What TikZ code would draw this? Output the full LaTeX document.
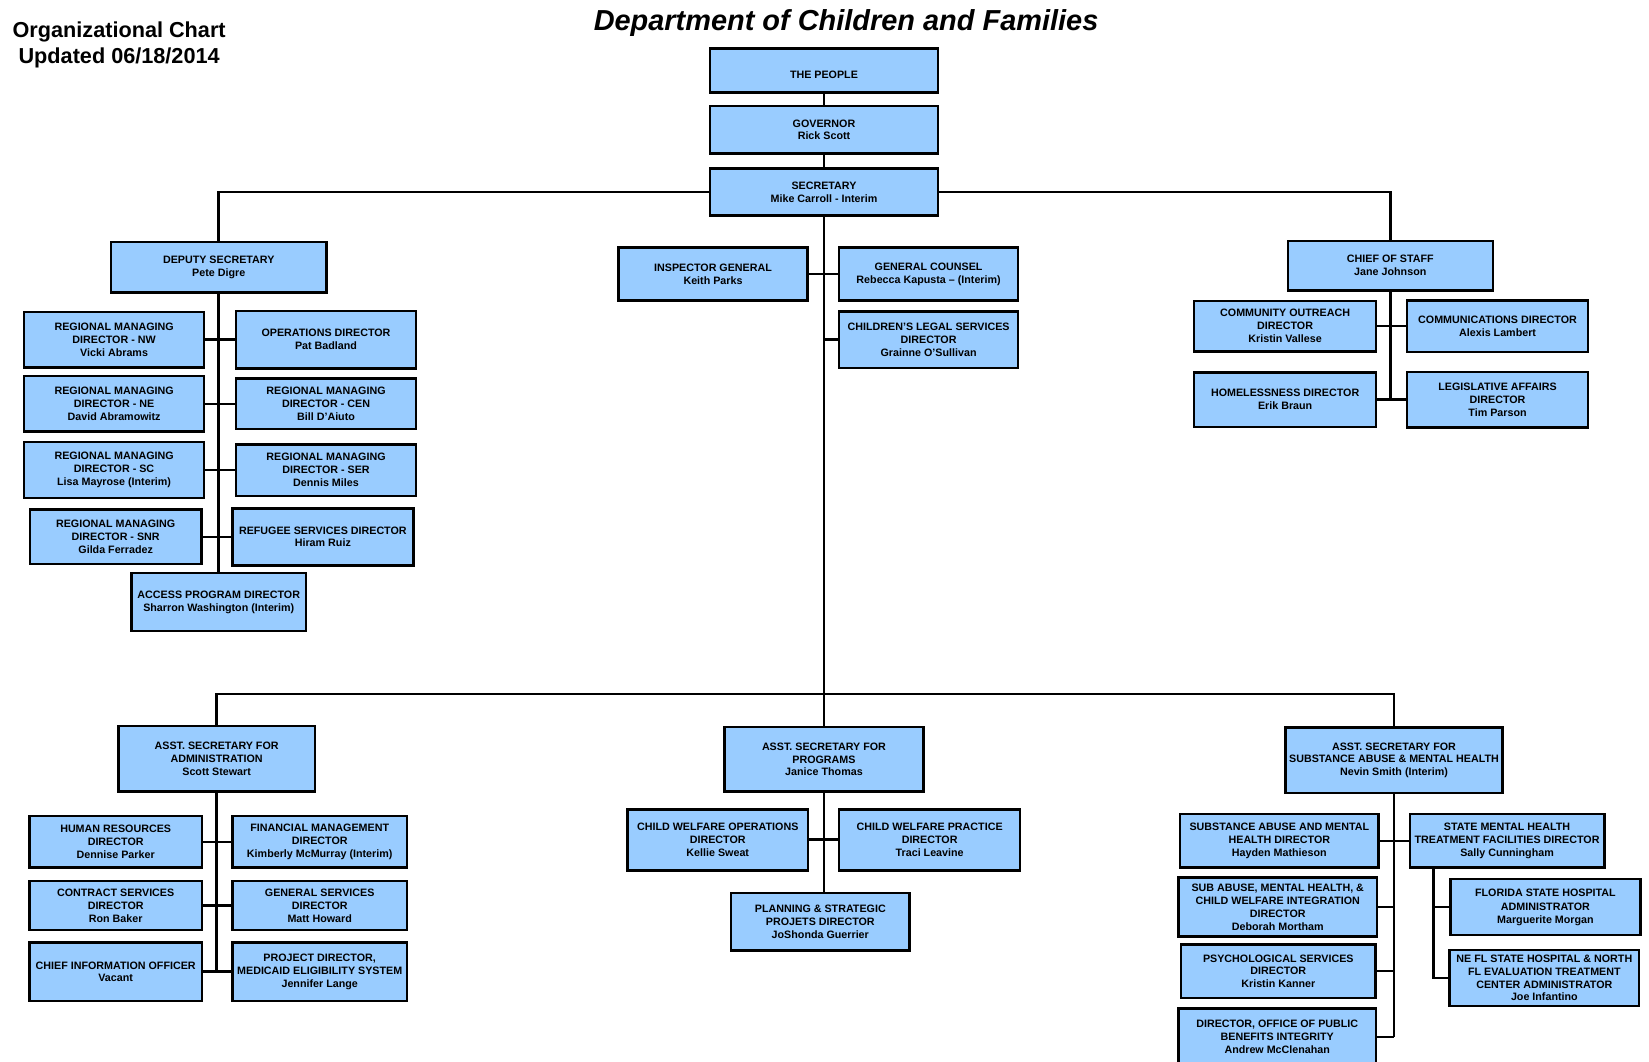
\documentclass[tikz,border=0pt]{standalone}
\usepackage{fontspec}
\setmainfont{Liberation Sans}
\definecolor{boxblue}{HTML}{99CCFF}

\begin{document}
\begin{tikzpicture}[x=1pt, y=-1pt, line width=2.4pt,
    orgbox/.style={rectangle, draw, fill=boxblue, align=center, inner sep=1pt,
      font=\bfseries\fontsize{10.2}{12.2}\selectfont},
    boxsize/.style 2 args={minimum width=#1pt, minimum height=#2pt},
    headline/.style={anchor=base, font=\bfseries\fontsize{20.6}{24.7}\selectfont}]
    \useasboundingbox (0,0) rectangle (1568,1009);

    \node (charttitle) [headline] at (113.3,35.5) {Organizational Chart};
    \node (chartdate) [headline] at (113.3,60.2) {Updated 06/18/2014};
    \node (depttitle) [anchor=base, font=\bfseries\itshape\fontsize{27.5}{33}\selectfont] at (804.5,29) {Department of Children and Families};

    \node (people) [orgbox, boxsize={217}{42}, text height=14.5pt] at (783.5,67) {THE PEOPLE};
    \node (governor) [orgbox, boxsize={217}{45}] at (783.5,123.5) {GOVERNOR\\Rick Scott};
    \node (secretary) [orgbox, boxsize={217}{45}] at (783.5,182.5) {SECRETARY\\Mike Carroll - Interim};

    \node (deputy) [orgbox, boxsize={205}{48}] at (208,254) {DEPUTY SECRETARY\\Pete Digre};
    \node (inspector) [orgbox, boxsize={180}{50}] at (678,260.5) {INSPECTOR GENERAL\\Keith Parks};
    \node (counsel) [orgbox, boxsize={170}{50}] at (883,260.5) {GENERAL COUNSEL\\Rebecca Kapusta -- (Interim)};
    \node (legal) [orgbox, boxsize={170}{54}] at (883,323) {CHILDREN'S LEGAL SERVICES\\DIRECTOR\\Grainne O'Sullivan};
    \node (chief) [orgbox, boxsize={195}{47}] at (1322,252.5) {CHIEF OF STAFF\\Jane Johnson};

    \node (rmdnw) [orgbox, boxsize={171}{53}] at (108.5,323) {REGIONAL MANAGING\\DIRECTOR - NW\\Vicki Abrams};
    \node (ops) [orgbox, boxsize={171}{55}] at (310,323) {OPERATIONS DIRECTOR\\Pat Badland};
    \node (rmdne) [orgbox, boxsize={171}{53}] at (108.5,384) {REGIONAL MANAGING\\DIRECTOR - NE\\David Abramowitz};
    \node (rmdcen) [orgbox, boxsize={171}{48}] at (310,384) {REGIONAL MANAGING\\DIRECTOR - CEN\\Bill D'Aiuto};
    \node (rmdsc) [orgbox, boxsize={171}{53}] at (108.5,447) {REGIONAL MANAGING\\DIRECTOR - SC\\Lisa Mayrose (Interim)};
    \node (rmdser) [orgbox, boxsize={171}{49}] at (310,447) {REGIONAL MANAGING\\DIRECTOR - SER\\Dennis Miles};
    \node (rmdsnr) [orgbox, boxsize={163}{52}] at (110,510.5) {REGIONAL MANAGING\\DIRECTOR - SNR\\Gilda Ferradez};
    \node (refugee) [orgbox, boxsize={172}{54}] at (307,510.5) {REFUGEE SERVICES DIRECTOR\\Hiram Ruiz};
    \node (access) [orgbox, boxsize={166}{55}] at (208,572.5) {ACCESS PROGRAM DIRECTOR\\Sharron Washington (Interim)};

    \node (outreach) [orgbox, boxsize={173}{48}] at (1222,310) {COMMUNITY OUTREACH\\DIRECTOR\\Kristin Vallese};
    \node (comms) [orgbox, boxsize={172}{49}] at (1424,310) {COMMUNICATIONS DIRECTOR\\Alexis Lambert};
    \node (homeless) [orgbox, boxsize={173}{52}] at (1222,380) {HOMELESSNESS DIRECTOR\\Erik Braun};
    \node (legis) [orgbox, boxsize={172}{53}] at (1424,380) {LEGISLATIVE AFFAIRS\\DIRECTOR\\Tim Parson};

    \node (admin) [orgbox, boxsize={187}{62}] at (206,721.5) {ASST. SECRETARY FOR\\ADMINISTRATION\\Scott Stewart};
    \node (hr) [orgbox, boxsize={164}{49}] at (110,800.5) {HUMAN RESOURCES\\DIRECTOR\\Dennise Parker};
    \node (fin) [orgbox, boxsize={166}{49}] at (304,800.5) {FINANCIAL MANAGEMENT\\DIRECTOR\\Kimberly McMurray (Interim)};
    \node (contract) [orgbox, boxsize={164}{47}] at (110,861) {CONTRACT SERVICES\\DIRECTOR\\Ron Baker};
    \node (gensvc) [orgbox, boxsize={166}{47}] at (304,861) {GENERAL SERVICES\\DIRECTOR\\Matt Howard};
    \node (cio) [orgbox, boxsize={164}{56}] at (110,924) {CHIEF INFORMATION OFFICER\\Vacant};
    \node (project) [orgbox, boxsize={166}{56}] at (304,924) {PROJECT DIRECTOR,\\MEDICAID ELIGIBILITY SYSTEM\\Jennifer Lange};

    \node (programs) [orgbox, boxsize={189}{61}] at (783.5,722) {ASST. SECRETARY FOR\\PROGRAMS\\Janice Thomas};
    \node (cwops) [orgbox, boxsize={172}{58}] at (682.5,798.5) {CHILD WELFARE OPERATIONS\\DIRECTOR\\Kellie Sweat};
    \node (cwprac) [orgbox, boxsize={172}{58}] at (884,798.5) {CHILD WELFARE PRACTICE\\DIRECTOR\\Traci Leavine};
    \node (planning) [orgbox, boxsize={170}{55}] at (780,876.5) {PLANNING \& STRATEGIC\\PROJETS DIRECTOR\\JoShonda Guerrier};

    \node (samh) [orgbox, boxsize={206}{62}] at (1325.5,723) {ASST. SECRETARY FOR\\SUBSTANCE ABUSE \& MENTAL HEALTH\\Nevin Smith (Interim)};
    \node (samhdir) [orgbox, boxsize={189}{51}] at (1216.5,799.5) {SUBSTANCE ABUSE AND MENTAL\\HEALTH DIRECTOR\\Hayden Mathieson};
    \node (statemh) [orgbox, boxsize={185}{51}] at (1433,799.5) {STATE MENTAL HEALTH\\TREATMENT FACILITIES DIRECTOR\\Sally Cunningham};
    \node (integ) [orgbox, boxsize={189}{56}] at (1215,862.5) {SUB ABUSE, MENTAL HEALTH, \&\\CHILD WELFARE INTEGRATION\\DIRECTOR\\Deborah Mortham};
    \node (psych) [orgbox, boxsize={185}{51}] at (1215.5,923.5) {PSYCHOLOGICAL SERVICES\\DIRECTOR\\Kristin Kanner};
    \node (benefits) [orgbox, boxsize={188}{54}] at (1214.5,986) {DIRECTOR, OFFICE OF PUBLIC\\BENEFITS INTEGRITY\\Andrew McClenahan};
    \node (fsh) [orgbox, boxsize={181}{53}] at (1469.5,862.5) {FLORIDA STATE HOSPITAL\\[1.5pt]ADMINISTRATOR\\Marguerite Morgan};
    \node (nefl) [orgbox, boxsize={180}{53}] at (1468.5,930) {NE FL STATE HOSPITAL \& NORTH\\FL EVALUATION TREATMENT\\CENTER ADMINISTRATOR\\Joe Infantino};

    \draw (people) -- (governor);
    \draw (governor) -- (secretary);
    \draw (deputy.north) |- (secretary.west);
    \draw (secretary.east) -| (chief.north);
    \coordinate (hub) at (783.5,660);
    \draw (secretary.south) -- (hub);
    \draw (admin.north) |- (hub) -| (samh.north);
    \draw (hub) -- (programs.north);
    \draw (inspector.east) -- (counsel.west);
    \draw (legal.west) -- (legal.west -| secretary.south);

    \draw (deputy.south) -- (access.north);
    \draw (rmdnw.east) -- (ops.west);
    \draw (rmdne.east) -- (rmdcen.west);
    \draw (rmdsc.east) -- (rmdser.west);
    \draw (rmdsnr.east) -- (refugee.west);

    \draw (chief.south) -- (chief.south |- homeless.east);
    \draw (outreach.east) -- (comms.west);
    \draw (homeless.east) -- (legis.west);

    \draw (admin.south) -- (admin.south |- cio.east);
    \draw (hr.east) -- (fin.west);
    \draw (contract.east) -- (gensvc.west);
    \draw (cio.east) -- (project.west);

    \draw (programs.south) -- (programs.south |- planning.north);
    \draw (cwops.east) -- (cwprac.west);

    \draw (samh.south) -- (samh.south |- benefits.east);
    \draw (samhdir.east) -- (statemh.west);
    \draw (integ.east) -- (integ.east -| samh.south);
    \draw (psych.east) -- (psych.east -| samh.south);
    \draw (benefits.east) -- (benefits.east -| samh.south);
    \path (statemh.south west) ++(24,0) coordinate (smhstem);
    \draw (smhstem) |- (nefl.west);
    \draw (fsh.west) -- (fsh.west -| smhstem);
\end{tikzpicture}
\end{document}
